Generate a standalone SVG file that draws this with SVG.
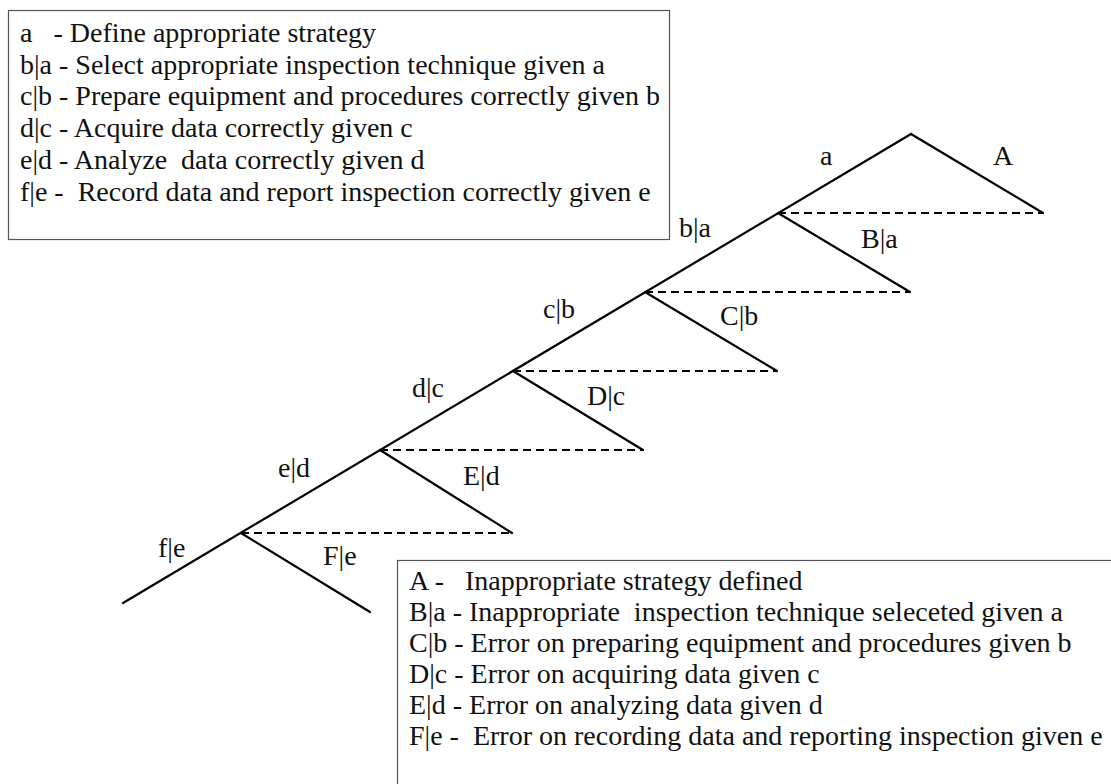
<svg xmlns="http://www.w3.org/2000/svg" width="1111" height="784" viewBox="0 0 1111 784">
<style>
  .t{font-family:"Liberation Serif","Times New Roman",serif;font-size:28px;fill:#111;white-space:pre}
  .box{fill:#fff;stroke:#555;stroke-width:1.2}
  .ln{stroke:#000;stroke-width:2.2;fill:none;stroke-linecap:round}
  .dash{stroke:#000;stroke-width:2.2;fill:none;stroke-dasharray:8 5}
</style>
<rect width="1111" height="784" fill="#fff"/>
<g id="legend-top">
  <rect class="box" x="8.5" y="10.5" width="661" height="229"/>
  <text class="t" x="20" y="42" xml:space="preserve">a   - Define appropriate strategy</text>
  <text class="t" x="20" y="74" xml:space="preserve">b|a - Select appropriate inspection technique given a</text>
  <text class="t" x="20" y="105" xml:space="preserve">c|b - Prepare equipment and procedures correctly given b</text>
  <text class="t" x="20" y="137" xml:space="preserve">d|c - Acquire data correctly given c</text>
  <text class="t" x="20" y="169" xml:space="preserve">e|d - Analyze  data correctly given d</text>
  <text class="t" x="20" y="201" xml:space="preserve">f|e -  Record data and report inspection correctly given e</text>
</g>
<g id="connectors">
  <path class="ln" d="M123,603 L911,134"/>
  <path class="ln" d="M911,134 L1043,213"/>
  <path class="ln" d="M778,213 L910,292"/>
  <path class="ln" d="M645,292 L777,371"/>
  <path class="ln" d="M513,371 L643,450"/>
  <path class="ln" d="M380,450 L512,533"/>
  <path class="ln" d="M241,533 L370,612"/>
  <path class="dash" d="M778,213 H1043"/>
  <path class="dash" d="M645,292 H910"/>
  <path class="dash" d="M513,371 H777"/>
  <path class="dash" d="M380,450 H643"/>
  <path class="dash" d="M241,533 H512"/>
</g>
<g id="labels-success">
  <text class="t" x="820" y="165">a</text>
  <text class="t" x="679" y="237">b|a</text>
  <text class="t" x="543" y="318">c|b</text>
  <text class="t" x="412" y="397">d|c</text>
  <text class="t" x="278" y="477">e|d</text>
  <text class="t" x="158" y="557">f|e</text>
</g>
<g id="labels-failure">
  <text class="t" x="993" y="165">A</text>
  <text class="t" x="861" y="248">B|a</text>
  <text class="t" x="720" y="325">C|b</text>
  <text class="t" x="587" y="405">D|c</text>
  <text class="t" x="463" y="485">E|d</text>
  <text class="t" x="323" y="565">F|e</text>
</g>
<g id="legend-bottom">
  <rect class="box" x="397.5" y="560.5" width="720" height="240"/>
  <text class="t" x="409" y="590" xml:space="preserve">A -   Inappropriate strategy defined</text>
  <text class="t" x="409" y="621" xml:space="preserve">B|a - Inappropriate  inspection technique seleceted given a</text>
  <text class="t" x="409" y="652" xml:space="preserve">C|b - Error on preparing equipment and procedures given b</text>
  <text class="t" x="409" y="683" xml:space="preserve">D|c - Error on acquiring data given c</text>
  <text class="t" x="409" y="714" xml:space="preserve">E|d - Error on analyzing data given d</text>
  <text class="t" x="409" y="745" xml:space="preserve">F|e -  Error on recording data and reporting inspection given e</text>
</g>
</svg>
